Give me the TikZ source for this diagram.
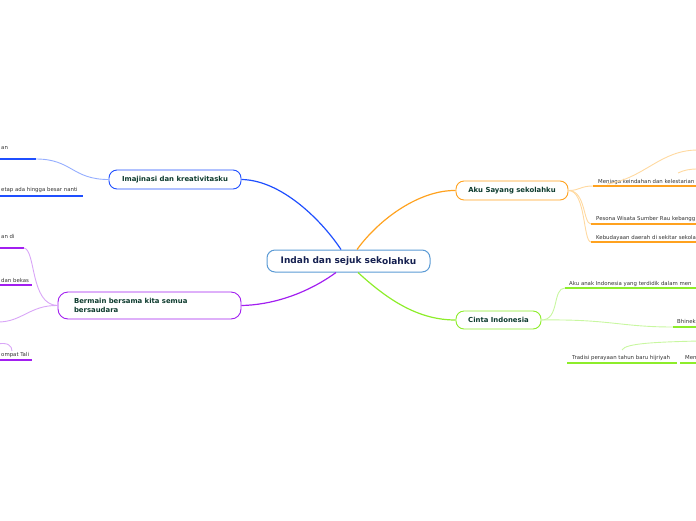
\documentclass[tikz,border=0pt]{standalone}
\usepackage{fontspec}
\setmainfont{DejaVu Sans}
\usetikzlibrary{calc}
\definecolor{cblue}{HTML}{1F4FFF}
\definecolor{lblue}{HTML}{95AEFF}
\definecolor{corange}{HTML}{FFA21F}
\definecolor{lorange}{HTML}{FFD9A0}
\definecolor{cpurple}{HTML}{A21FF0}
\definecolor{lpurple}{HTML}{D9A6F7}
\definecolor{cgreen}{HTML}{8DED2A}
\definecolor{lgreen}{HTML}{C8F7A0}
\definecolor{ccenter}{HTML}{5B9BD5}
\definecolor{navy}{HTML}{152050}
\definecolor{maintext}{HTML}{0D3B2E}
\definecolor{leaftext}{HTML}{333333}
\begin{document}
\begin{tikzpicture}[x=1pt,y=-1pt,
  topic/.style={draw, rounded corners=8pt, fill=white, font=\bfseries\fontsize{6.9}{8}\selectfont,
    text=maintext, line width=0.9pt, inner sep=0pt, minimum height=19pt},
  leaf/.style={font=\fontsize{5.4}{6}\selectfont, text=leaftext, inner sep=0pt, anchor=base west},
  uline/.style={line width=1.8pt},
  mainconn/.style={line width=1.2pt},
  subconn/.style={line width=0.9pt}]
\useasboundingbox (0,0) rectangle (696,520);

% central node
\node[draw=ccenter, line width=1pt, rounded corners=8pt, fill=white, minimum width=163pt, minimum height=22pt,
  inner sep=0pt, font=\bfseries\fontsize{9}{10}\selectfont, text=navy] (c) at (348.5,261)
  {Indah dan sejuk sek\raisebox{-1.5pt}{olahku}};

% main topics
\node[topic, draw=cblue, minimum width=132pt] (im) at (175,179.5) {Imajinasi dan kreativitasku};
\node[topic, draw=corange, minimum width=112pt] (au) at (512,190.5) {Aku Sayang sekolahku};
\node[topic, draw=cgreen, minimum width=85pt, minimum height=18pt] (ci) at (498.5,320) {Cinta Indonesia};
\node[topic, draw=cpurple, minimum width=183pt, minimum height=27pt, rounded corners=10pt,
  align=left, text width=151pt, inner xsep=16pt, font=\bfseries\fontsize{6.9}{8.6}\selectfont] (bm) at (149.5,305.5)
  {Bermain bersama kita semua\\bersaudara};

% main connectors
\coordinate (cb) at ($(c.north)+(-7.5,0)$);
\coordinate (co) at ($(c.north)+(8.5,0)$);
\coordinate (cp) at ($(c.south)+(-12.5,0)$);
\coordinate (cg) at ($(c.south)+(9.5,0)$);
\draw[mainconn, cblue] (cb) .. controls (320,218) and (280,180) .. (im.east);
\draw[mainconn, corange] (co) .. controls (380,218) and (420,190) .. (au.west);
\draw[mainconn, cpurple] (cp) .. controls (305,295) and (270,305) .. (bm.east);
\draw[mainconn, cgreen] (cg) .. controls (390,302) and (420,320) .. (ci.west);

% Imajinasi children
\node[leaf] (i1t) at (1,149.5) {an};
\coordinate (i1a) at (-2,159); \coordinate (i1b) at (36,159);
\draw[uline, cblue] (i1a) -- (i1b);
\draw[subconn, lblue] (i1b) .. controls (72,159) and (72,179.5) .. (im.west);
\node[leaf] (i2t) at (1,191) {etap ada hingga besar nanti};
\coordinate (i2a) at (-2,196); \coordinate (i2b) at (83,196);
\draw[uline, cblue] (i2a) -- (i2b);

% Bermain children
\node[leaf] (b1t) at (1,238) {an di};
\coordinate (b1a) at (-2,248); \coordinate (b1b) at (24,248);
\draw[uline, cpurple] (b1a) -- (b1b);
\draw[subconn, lpurple] (b1b) .. controls (36,250) and (30,305) .. (bm.west);
\node[leaf] (b2t) at (1,282) {dan bekas};
\coordinate (b2a) at (-2,285); \coordinate (b2b) at (32,285);
\draw[uline, cpurple] (b2a) -- (b2b);
\coordinate (b3) at (-2,322);
\draw[subconn, lpurple] (bm.west) .. controls (30,305) and (22,322) .. (b3);
\node[leaf] (b4t) at (1,356) {ompat Tali};
\coordinate (b4a) at (-2,360); \coordinate (b4b) at (32,360);
\draw[uline, cpurple] (b4a) -- (b4b);
\coordinate (b5a) at (-2,344); \coordinate (b5b) at (12,351);
\draw[subconn, lpurple] (b5a) .. controls (8,342) and (12,346) .. (b5b);

% Aku Sayang children
\node[leaf] (a1t) at (598,183) {Menjaga keindahan dan kelestarian};
\coordinate (a1a) at (593,186); \coordinate (a1b) at (698,186);
\draw[subconn, lorange] (au.east) .. controls (580,190.5) and (580,186) .. (a1a);
\draw[uline, corange] (a1a) -- (a1b);
\coordinate (a1c) at (607,184); \coordinate (a1d) at (698,150);
\draw[subconn, lorange] (a1c) .. controls (645,178) and (660,150) .. (a1d);
\coordinate (a1e) at (678,173); \coordinate (a1f) at (698,169);
\draw[subconn, lorange] (a1e) .. controls (684,170) and (690,169) .. (a1f);
\node[leaf] (a2t) at (596,220.5) {Pesona Wisata Sumber Rau kebangg};
\coordinate (a2a) at (591,224); \coordinate (a2b) at (698,224);
\draw[subconn, lorange] (au.east) .. controls (586,190.5) and (583,224) .. (a2a);
\draw[uline, corange] (a2a) -- (a2b);
\node[leaf] (a3t) at (596,239) {Kebudayaan daerah di sekitar sekola};
\coordinate (a3a) at (591,242); \coordinate (a3b) at (698,242);
\draw[subconn, lorange] (au.east) .. controls (586,190.5) and (583,242) .. (a3a);
\draw[uline, corange] (a3a) -- (a3b);

% Cinta Indonesia children
\node[leaf] (c1t) at (569,285) {Aku anak Indonesia yang terdidik dalam men};
\coordinate (c1a) at (565,288); \coordinate (c1b) at (698,288);
\draw[subconn, lgreen] (ci.east) .. controls (560,320) and (552,288) .. (c1a);
\draw[uline, cgreen] (c1a) -- (c1b);
\node[leaf] (c2t) at (677,323.5) {Bhinek};
\coordinate (c2a) at (673,327); \coordinate (c2b) at (698,327);
\draw[subconn, lgreen] (ci.east) .. controls (610,319) and (620,327) .. (c2a);
\draw[uline, cgreen] (c2a) -- (c2b);
\node[leaf] (c3t) at (572,359.5) {Tradisi perayaan tahun baru hijriyah};
\coordinate (c3a) at (567,363); \coordinate (c3b) at (677,363);
\draw[uline, cgreen] (c3a) -- (c3b);
\node[leaf] (c4t) at (685,359.5) {Men};
\coordinate (c4a) at (680,363); \coordinate (c4b) at (698,363);
\draw[uline, cgreen] (c4a) -- (c4b);
\coordinate (c5a) at (622,350); \coordinate (c5b) at (698,341);
\draw[subconn, lgreen] (c5a) .. controls (625,343) and (660,342) .. (c5b);
\end{tikzpicture}
\end{document}
